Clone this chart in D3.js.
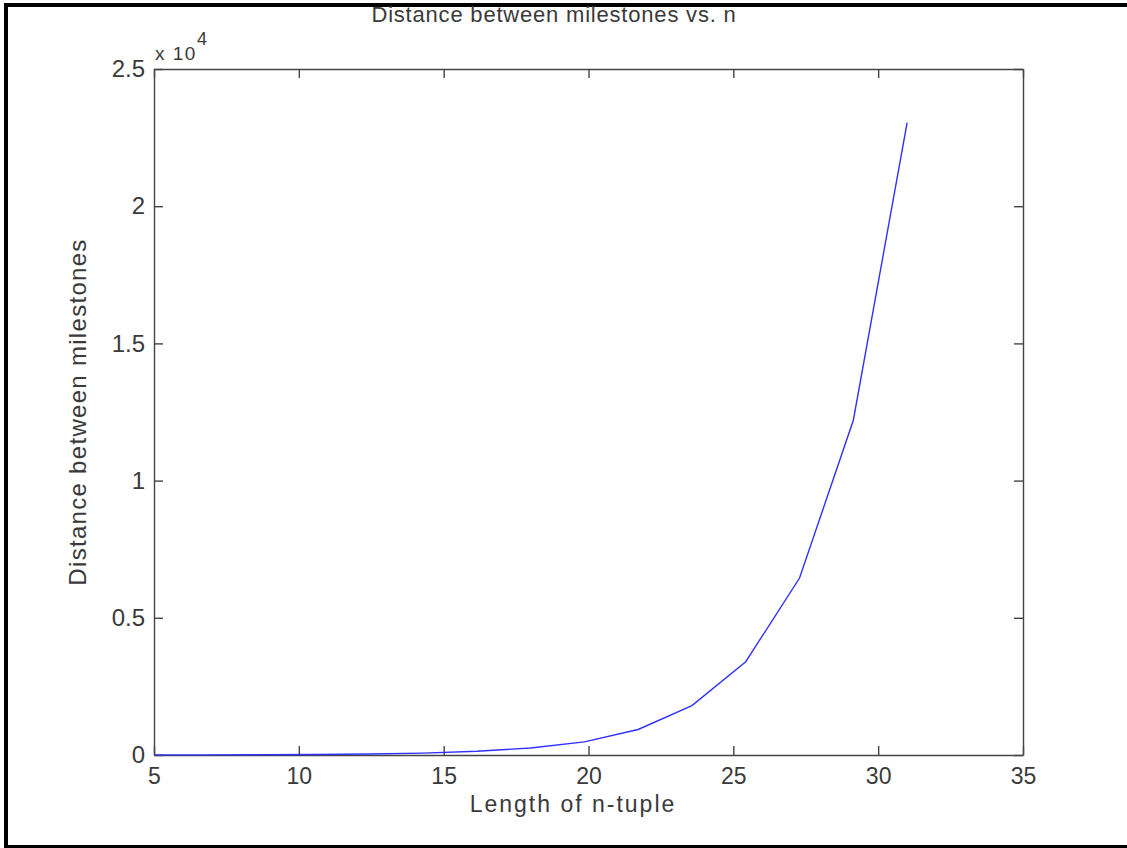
<!DOCTYPE html>
<meta charset="utf-8">
<style>

body {
  margin: 0;
  background: #fff;
}

text {
  font-family: "Liberation Sans", Arial, sans-serif;
  fill: #3a3a3a;
}

.axis path,
.axis line {
  fill: none;
  stroke: #444;
  stroke-width: 1.4;
}

.line {
  fill: none;
  stroke: #3030ff;
  stroke-width: 1.4;
}

</style>
<body>
<script src="https://d3js.org/d3.v7.min.js"></script>
<script>

// n values and distances
var nValues = [5, 6.857, 8.714, 10.571, 12.429, 14.286, 16.143, 18, 19.857, 21.714, 23.571, 25.429, 27.286, 29.143, 31];
var distances = [3, 5, 10, 20, 37, 70, 135, 255, 480, 930, 1800, 3400, 6450, 12200, 23050];

var xTicks = [5, 10, 15, 20, 25, 30, 35];
var yTicks = [0, 5000, 10000, 15000, 20000, 25000];
var yTickLabels = ["0", "0.5", "1", "1.5", "2", "2.5"];

var W = 1127, H = 848;
var box = {left: 154, right: 1023, top: 69, bottom: 755};

var svg = d3.select("body").append("svg")
    .attr("width", W)
    .attr("height", H);

// outer frame
svg.append("rect")
    .attr("x", 6)
    .attr("y", 5)
    .attr("width", W + 20)
    .attr("height", 842)
    .attr("fill", "none")
    .attr("stroke", "#000")
    .attr("stroke-width", 4);

var x = d3.scaleLinear().domain([5, 35]).range([box.left, box.right]);
var y = d3.scaleLinear().domain([0, 25000]).range([box.bottom, box.top]);

var tick = 9;

// bottom axis with labels
svg.append("g")
    .attr("class", "axis")
    .attr("transform", "translate(0," + box.bottom + ")")
    .call(d3.axisBottom(x).tickValues(xTicks).tickSizeInner(-tick).tickSizeOuter(0).tickPadding(13))
    .call(function(g) { g.selectAll("text").attr("font-size", 23).attr("fill", "#3a3a3a"); });

// top axis, ticks only
svg.append("g")
    .attr("class", "axis")
    .attr("transform", "translate(0," + box.top + ")")
    .call(d3.axisTop(x).tickValues(xTicks).tickSizeInner(-tick).tickSizeOuter(0).tickFormat(""));

// left axis with labels
svg.append("g")
    .attr("class", "axis")
    .attr("transform", "translate(" + box.left + ",0)")
    .call(d3.axisLeft(y).tickValues(yTicks).tickSizeInner(-tick).tickSizeOuter(0).tickPadding(9)
      .tickFormat(function(d, i) { return yTickLabels[i]; }))
    .call(function(g) { g.selectAll("text").attr("font-size", 24).attr("fill", "#3a3a3a"); });

// right axis, ticks only
svg.append("g")
    .attr("class", "axis")
    .attr("transform", "translate(" + box.right + ",0)")
    .call(d3.axisRight(y).tickValues(yTicks).tickSizeInner(-tick).tickSizeOuter(0).tickFormat(""));

// the data line
var line = d3.line()
    .x(function(d, i) { return x(nValues[i]); })
    .y(function(d) { return y(d); });

svg.append("path")
    .datum(distances)
    .attr("class", "line")
    .attr("d", line);

// exponent label
var expo = svg.append("text")
    .attr("x", box.left + 1)
    .attr("y", 60)
    .attr("font-size", 19)
    .attr("letter-spacing", 1.5);
expo.append("tspan").text("x 10");
expo.append("tspan").attr("dy", -15).attr("font-size", 18).text("4");

// title
svg.append("text")
    .attr("x", 554)
    .attr("y", 22)
    .attr("text-anchor", "middle")
    .attr("font-size", 22)
    .attr("letter-spacing", 0.8)
    .text("Distance between milestones vs. n");

// axis labels
svg.append("text")
    .attr("x", 573)
    .attr("y", 812)
    .attr("text-anchor", "middle")
    .attr("font-size", 23)
    .attr("letter-spacing", 2)
    .text("Length of n-tuple");

svg.append("text")
    .attr("transform", "translate(86," + ((box.top + box.bottom) / 2) + ") rotate(-90)")
    .attr("text-anchor", "middle")
    .attr("font-size", 24)
    .attr("letter-spacing", 1.3)
    .text("Distance between milestones");

</script>
</body>
